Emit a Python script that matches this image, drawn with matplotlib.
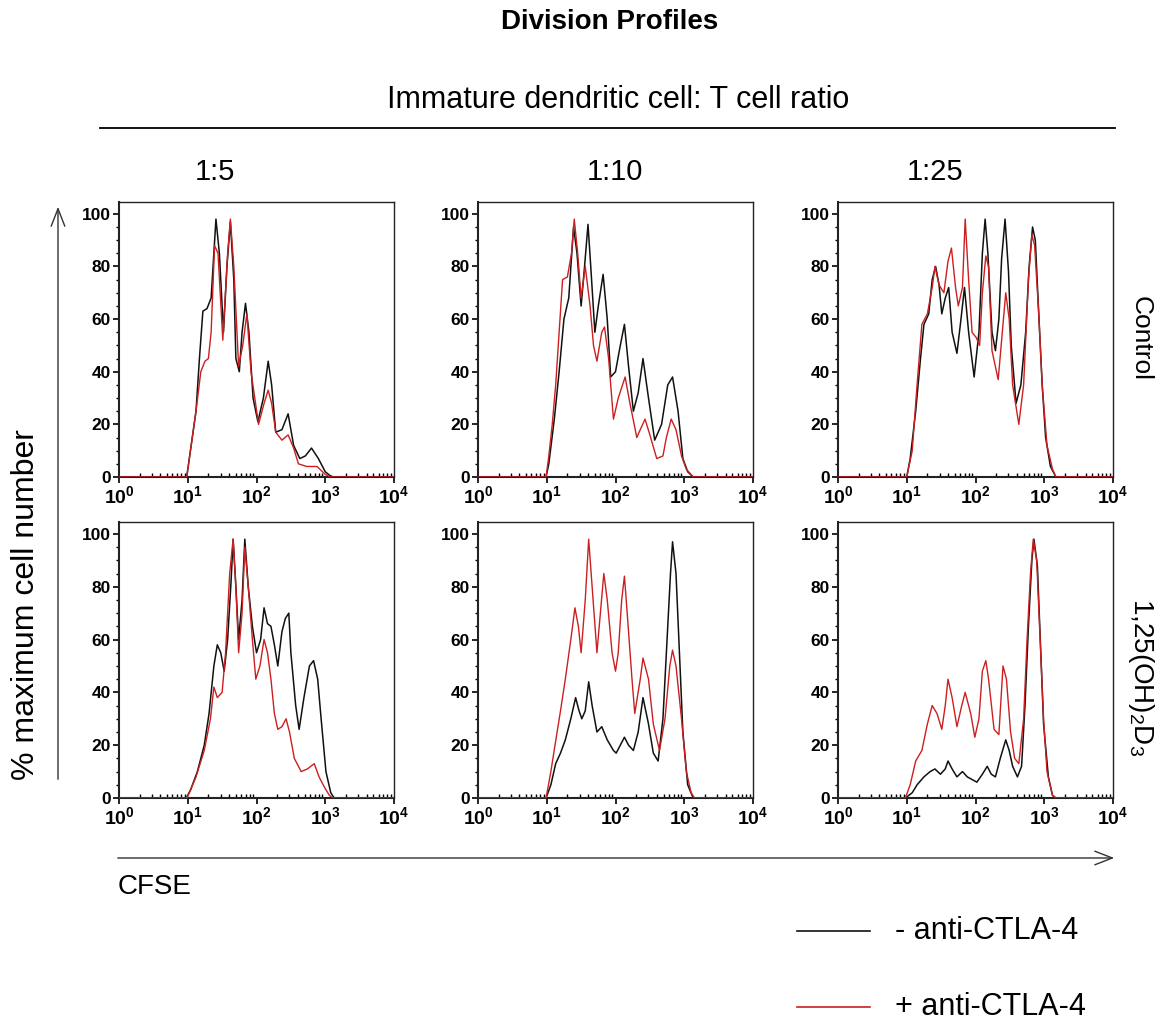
import numpy as np
import matplotlib
matplotlib.use("Agg")
import matplotlib.pyplot as plt
from matplotlib import font_manager
from matplotlib.lines import Line2D
from matplotlib.patches import FancyArrowPatch
from matplotlib.ticker import MultipleLocator

# ---------------- data (x values are log10(CFSE)) ----------------
col_labels = ["1:5", "1:10", "1:25"]
row_labels = ["Control", r"1,25(OH)$_2$D$_3$"]
y_ticks = [0, 20, 40, 60, 80, 100]
x_tick_exps = [0, 1, 2, 3, 4]
legend_labels = ["- anti-CTLA-4", "+ anti-CTLA-4"]

ctrl_5_bx = [0.0, 0.985, 1.12, 1.17, 1.22, 1.28, 1.34, 1.41, 1.46, 1.52, 1.57, 1.62, 1.67, 1.70, 1.75, 1.79, 1.84, 1.89, 1.95, 2.02, 2.10, 2.17, 2.22, 2.28, 2.37, 2.46, 2.54, 2.63, 2.71, 2.80, 2.90, 3.00, 3.07, 3.12, 4.0]
ctrl_5_by = [0, 0, 25, 45, 63, 64, 68, 98, 85, 55, 80, 97, 75, 45, 40, 55, 66, 55, 30, 21, 30, 44, 35, 17, 18, 24, 12, 7, 8, 11, 7, 2, 0.5, 0, 0]
ctrl_5_rx = [0.0, 0.985, 1.12, 1.19, 1.25, 1.30, 1.34, 1.39, 1.44, 1.51, 1.58, 1.62, 1.67, 1.74, 1.80, 1.86, 1.92, 2.03, 2.11, 2.17, 2.22, 2.28, 2.37, 2.46, 2.54, 2.61, 2.73, 2.88, 3.00, 3.07, 4.0]
ctrl_5_ry = [0, 0, 25, 40, 44, 45, 55, 88, 85, 52, 85, 98, 80, 42, 50, 62, 40, 20, 28, 33, 28, 17, 14, 16, 11, 5, 4, 4, 1, 0, 0]

ctrl_10_bx = [0.0, 0.99, 1.03, 1.11, 1.18, 1.25, 1.32, 1.39, 1.44, 1.50, 1.55, 1.60, 1.64, 1.70, 1.75, 1.82, 1.88, 1.93, 2.00, 2.07, 2.13, 2.19, 2.26, 2.33, 2.40, 2.48, 2.57, 2.67, 2.76, 2.83, 2.91, 2.98, 3.05, 3.13, 4.0]
ctrl_10_by = [0, 0, 5, 22, 40, 60, 68, 95, 85, 65, 80, 96, 80, 55, 65, 77, 60, 38, 40, 50, 58, 42, 25, 32, 45, 30, 14, 20, 35, 38, 25, 7, 2, 0, 0]
ctrl_10_rx = [0.0, 0.99, 1.03, 1.08, 1.13, 1.18, 1.23, 1.30, 1.36, 1.40, 1.45, 1.50, 1.56, 1.63, 1.68, 1.73, 1.80, 1.84, 1.90, 1.97, 2.04, 2.14, 2.21, 2.31, 2.36, 2.43, 2.50, 2.60, 2.69, 2.74, 2.81, 2.88, 2.96, 3.03, 3.13, 4.0]
ctrl_10_ry = [0, 0, 8, 20, 35, 55, 75, 76, 85, 98, 85, 68, 80, 65, 50, 44, 55, 57, 45, 22, 30, 38, 28, 15, 18, 22, 16, 7, 8, 15, 22, 18, 8, 3, 0, 0]

ctrl_25_bx = [0.0, 1.00, 1.05, 1.13, 1.20, 1.25, 1.32, 1.37, 1.42, 1.47, 1.51, 1.56, 1.61, 1.66, 1.73, 1.78, 1.84, 1.90, 1.98, 2.05, 2.10, 2.14, 2.18, 2.24, 2.29, 2.34, 2.38, 2.43, 2.48, 2.52, 2.59, 2.66, 2.73, 2.78, 2.83, 2.87, 2.92, 2.97, 3.02, 3.09, 3.17, 4.0]
ctrl_25_by = [0, 0, 7, 25, 45, 58, 62, 75, 80, 73, 62, 68, 72, 55, 47, 58, 72, 55, 38, 55, 85, 98, 85, 55, 48, 60, 83, 98, 78, 50, 28, 35, 55, 80, 95, 90, 62, 35, 15, 4, 0, 0]
ctrl_25_rx = [0.0, 1.00, 1.08, 1.15, 1.22, 1.30, 1.37, 1.41, 1.47, 1.54, 1.60, 1.65, 1.71, 1.75, 1.81, 1.85, 1.90, 1.95, 2.01, 2.06, 2.10, 2.15, 2.19, 2.24, 2.33, 2.39, 2.44, 2.49, 2.54, 2.63, 2.70, 2.77, 2.82, 2.86, 2.92, 2.97, 3.04, 3.12, 3.17, 4.0]
ctrl_25_ry = [0, 0, 10, 35, 58, 62, 72, 80, 73, 70, 82, 87, 72, 65, 72, 98, 75, 55, 53, 50, 70, 84, 80, 48, 37, 55, 70, 60, 35, 20, 35, 75, 92, 88, 62, 35, 12, 3, 0, 0]

vitd_5_bx = [0.0, 0.98, 1.04, 1.14, 1.24, 1.31, 1.38, 1.43, 1.48, 1.53, 1.58, 1.63, 1.66, 1.70, 1.74, 1.79, 1.83, 1.88, 1.94, 2.00, 2.06, 2.11, 2.16, 2.21, 2.26, 2.31, 2.37, 2.42, 2.47, 2.50, 2.57, 2.62, 2.69, 2.77, 2.83, 2.89, 2.94, 3.01, 3.08, 3.13, 4.0]
vitd_5_by = [0, 0, 3, 10, 20, 32, 50, 58, 55, 48, 60, 82, 98, 80, 60, 75, 98, 80, 65, 55, 60, 72, 66, 65, 58, 50, 63, 68, 70, 55, 35, 26, 38, 50, 52, 45, 30, 10, 2, 0, 0]
vitd_5_rx = [0.0, 0.99, 1.12, 1.24, 1.33, 1.38, 1.43, 1.50, 1.55, 1.61, 1.66, 1.70, 1.74, 1.79, 1.83, 1.88, 1.94, 1.99, 2.05, 2.11, 2.16, 2.21, 2.26, 2.31, 2.37, 2.43, 2.48, 2.55, 2.65, 2.74, 2.84, 2.91, 2.99, 3.06, 3.11, 4.0]
vitd_5_ry = [0, 0, 8, 18, 30, 42, 38, 40, 55, 85, 98, 80, 55, 70, 95, 80, 60, 45, 50, 60, 55, 45, 32, 26, 27, 30, 25, 15, 10, 11, 13, 8, 4, 1, 0, 0]

vitd_10_bx = [0.0, 0.99, 1.06, 1.13, 1.20, 1.27, 1.35, 1.42, 1.47, 1.51, 1.56, 1.61, 1.66, 1.73, 1.80, 1.88, 1.97, 2.01, 2.07, 2.13, 2.19, 2.26, 2.33, 2.40, 2.48, 2.55, 2.62, 2.69, 2.75, 2.80, 2.83, 2.88, 2.93, 2.98, 3.05, 3.13, 4.0]
vitd_10_by = [0, 0, 5, 13, 17, 22, 30, 38, 33, 30, 33, 44, 35, 25, 27, 22, 18, 17, 20, 23, 20, 18, 25, 38, 28, 17, 14, 30, 60, 85, 97, 85, 55, 25, 5, 0, 0]
vitd_10_rx = [0.0, 0.99, 1.06, 1.12, 1.20, 1.27, 1.35, 1.41, 1.46, 1.50, 1.56, 1.61, 1.66, 1.73, 1.78, 1.83, 1.88, 1.95, 2.00, 2.04, 2.09, 2.13, 2.17, 2.24, 2.28, 2.36, 2.40, 2.48, 2.55, 2.64, 2.72, 2.79, 2.83, 2.88, 2.96, 3.03, 3.10, 3.15, 4.0]
vitd_10_ry = [0, 0, 10, 20, 33, 45, 60, 72, 65, 55, 75, 98, 80, 55, 70, 85, 75, 55, 48, 55, 75, 84, 70, 45, 32, 45, 53, 45, 28, 18, 30, 50, 56, 50, 30, 10, 2, 0, 0]

vitd_25_bx = [0.0, 0.98, 1.08, 1.15, 1.25, 1.34, 1.41, 1.49, 1.56, 1.60, 1.66, 1.73, 1.81, 1.88, 1.95, 2.02, 2.10, 2.17, 2.23, 2.29, 2.36, 2.44, 2.49, 2.54, 2.61, 2.67, 2.72, 2.77, 2.82, 2.85, 2.90, 2.95, 2.99, 3.06, 3.12, 3.17, 4.0]
vitd_25_by = [0, 0, 2, 5, 8, 10, 11, 9, 11, 14, 11, 8, 10, 8, 7, 6, 9, 12, 9, 8, 15, 22, 18, 12, 8, 12, 35, 65, 90, 98, 88, 55, 28, 8, 1, 0, 0]
vitd_25_rx = [0.0, 0.98, 1.05, 1.13, 1.22, 1.30, 1.37, 1.44, 1.51, 1.56, 1.60, 1.66, 1.73, 1.80, 1.85, 1.93, 1.99, 2.05, 2.10, 2.15, 2.19, 2.27, 2.34, 2.40, 2.45, 2.51, 2.57, 2.63, 2.70, 2.75, 2.80, 2.84, 2.89, 2.94, 2.99, 3.04, 3.12, 3.17, 4.0]
vitd_25_ry = [0, 0, 5, 14, 18, 28, 35, 32, 26, 35, 45, 38, 27, 35, 40, 32, 23, 30, 48, 52, 45, 26, 24, 50, 45, 25, 15, 13, 30, 60, 85, 98, 90, 60, 30, 10, 1, 0, 0]

panels = [
    [(ctrl_5_bx, ctrl_5_by, ctrl_5_rx, ctrl_5_ry),
     (ctrl_10_bx, ctrl_10_by, ctrl_10_rx, ctrl_10_ry),
     (ctrl_25_bx, ctrl_25_by, ctrl_25_rx, ctrl_25_ry)],
    [(vitd_5_bx, vitd_5_by, vitd_5_rx, vitd_5_ry),
     (vitd_10_bx, vitd_10_by, vitd_10_rx, vitd_10_ry),
     (vitd_25_bx, vitd_25_by, vitd_25_rx, vitd_25_ry)],
]

# ---------------- fonts ----------------
available = {f.name for f in font_manager.fontManager.ttflist}
def pick(names):
    for n in names:
        if n in available:
            return n
    return "DejaVu Sans"

narrow = pick(["Liberation Sans Narrow", "Liberation Sans", "DejaVu Sans"])
regular = pick(["Liberation Sans", "Arimo", "DejaVu Sans"])

plt.rcParams["font.family"] = regular
plt.rcParams["mathtext.fontset"] = "custom"
plt.rcParams["mathtext.rm"] = regular
plt.rcParams["mathtext.it"] = regular + ":italic"
plt.rcParams["mathtext.bf"] = narrow + ":bold"

W, H = 1167, 1022
fig = plt.figure(figsize=(W / 100, H / 100), dpi=100)

def fx(x):
    return x / W

def fy(y):
    return 1 - y / H

col_lefts = [119, 478, 838]
col_width = 275
row_tops = [202, 522]
row_bottoms = [477, 798]

BLACK = "#111111"
RED = "#cc1f1f"

for r in range(2):
    for c in range(3):
        left = col_lefts[c]
        top, bot = row_tops[r], row_bottoms[r]
        ax = fig.add_axes([fx(left), fy(bot), col_width / W, (bot - top) / H])
        bx, by, rx, ry = panels[r][c]
        ax.plot(10 ** np.array(bx), by, color=BLACK, lw=1.1, zorder=2)
        ax.plot(10 ** np.array(rx), ry, color=RED, lw=1.0, zorder=3)
        ax.set_xscale("log")
        ax.set_xlim(1, 1e4)
        ax.set_ylim(0, 104.5)
        ax.set_xticks([10 ** e for e in x_tick_exps])
        ax.set_xticklabels([r"$\mathbf{10^{%d}}$" % e for e in x_tick_exps], fontsize=14)
        ax.set_yticks(y_ticks)
        ax.set_yticklabels([str(v) for v in y_ticks], fontfamily=narrow,
                           fontweight="bold", fontsize=12.5)
        ax.yaxis.set_minor_locator(MultipleLocator(5))
        ax.tick_params(axis="both", which="major", direction="out", length=4,
                       width=1.2, pad=2)
        ax.tick_params(axis="y", which="minor", direction="out", length=2, width=1)
        ax.tick_params(axis="x", which="minor", direction="in", length=3, width=1)
        for s in ax.spines.values():
            s.set_linewidth(1.0)
            s.set_color("#222222")
        ax.spines["left"].set_linewidth(1.5)
        ax.spines["bottom"].set_linewidth(1.5)

# ---------------- text & decorations ----------------
fig.text(fx(610), fy(22), "Division Profiles", ha="center", va="center",
         fontsize=20, fontweight="bold", family=narrow)
fig.text(fx(618), fy(100), "Immature dendritic cell: T cell ratio",
         ha="center", va="center", fontsize=22, family=narrow)
fig.add_artist(Line2D([fx(100), fx(1115)], [fy(128), fy(128)], color="black",
                      lw=1.3, transform=fig.transFigure))
for lab, x in zip(col_labels, [215, 615, 935]):
    fig.text(fx(x), fy(172), lab, ha="center", va="center", fontsize=21,
             family=narrow)

fig.text(fx(1141), fy(338), row_labels[0], rotation=-90, ha="center",
         va="center", fontsize=19)
fig.text(fx(1141), fy(677), row_labels[1], rotation=-90, ha="center",
         va="center", fontsize=20)

fig.text(fx(26), fy(605), "% maximum cell number", rotation=90, ha="center",
         va="center", fontsize=23)

fig.add_artist(FancyArrowPatch(
    (fx(58), fy(782)), (fx(58), fy(204)), transform=fig.transFigure,
    arrowstyle="->,head_length=0.9,head_width=0.35", color="#333333", lw=1.0,
    mutation_scale=14))
fig.add_artist(FancyArrowPatch(
    (fx(115), fy(858)), (fx(1117), fy(858)), transform=fig.transFigure,
    arrowstyle="->,head_length=0.9,head_width=0.35", color="#333333", lw=1.0,
    mutation_scale=14))
fig.text(fx(118), fy(887), "CFSE", ha="left", va="center", fontsize=20)

fig.add_artist(Line2D([fx(797), fx(870)], [fy(931), fy(931)], color=BLACK,
                      lw=1.2, transform=fig.transFigure))
fig.add_artist(Line2D([fx(797), fx(870)], [fy(1007), fy(1007)], color=RED,
                      lw=1.2, transform=fig.transFigure))
fig.text(fx(895), fy(931), legend_labels[0], ha="left", va="center", fontsize=22)
fig.text(fx(895), fy(1007), legend_labels[1], ha="left", va="center", fontsize=22)

fig.savefig("out.png", dpi=100)
